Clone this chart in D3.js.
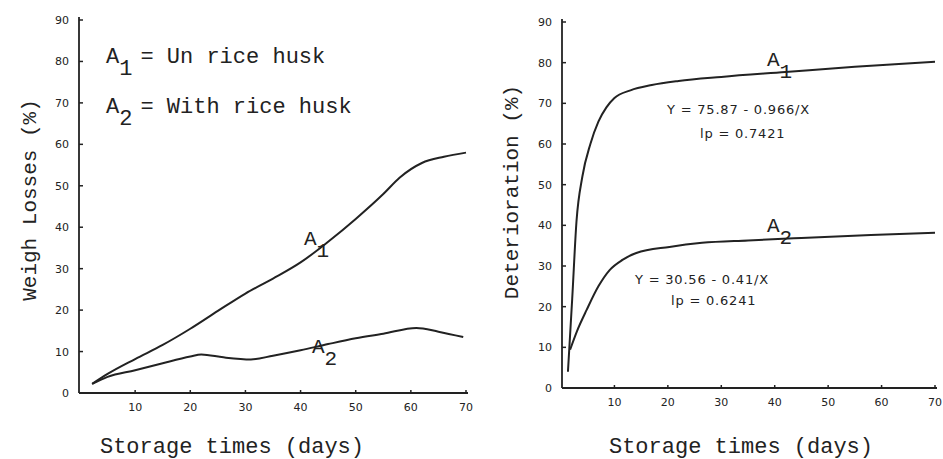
<!DOCTYPE html>
<html>
<head>
<meta charset="utf-8">
<script src="https://cdn.jsdelivr.net/npm/d3@7"></script>
<style>
  body { margin: 0; background: #fff; }
  svg { display: block; }
  text { fill: #222; }
</style>
</head>
<body>
<svg id="drawing_region"></svg>
<script>
// ---- data ----
const lossDaysA1 = [2.2, 5, 10, 15, 20, 25, 30, 35, 40, 45, 50, 55, 58, 62, 66, 70];
const lossA1     = [2.2, 4.6, 8.2, 11.6, 15.5, 19.8, 24, 27.6, 31.5, 36.5, 42, 48, 52, 55.5, 57, 58];
const lossDaysA2 = [2.2, 5, 10, 15, 20, 22, 26, 31, 35, 40, 45, 50, 55, 61, 65, 69.5];
const lossA2     = [2.2, 3.9, 5.5, 7.2, 8.8, 9.3, 8.6, 8.1, 9, 10.3, 11.8, 13.2, 14.3, 15.7, 14.8, 13.5];

const detDaysA1 = [1.3, 2.1, 2.9, 4, 5.5, 7, 8.5, 10, 13, 17, 22, 30, 42, 55, 70];
const detA1     = [4, 22, 41, 52, 60, 65.5, 69, 71.3, 73.2, 74.5, 75.5, 76.5, 77.7, 79, 80.2];
const detDaysA2 = [1.7, 3, 4.8, 7, 9.1, 11.5, 14.1, 20.3, 26.4, 35, 45, 58, 70];
const detA2     = [9.4, 14, 19.2, 25, 29, 31.5, 33.2, 34.7, 35.7, 36.3, 36.9, 37.6, 38.2];

const yTicks = [0, 10, 20, 30, 40, 50, 60, 70, 80, 90];
const xTicks = [10, 20, 30, 40, 50, 60, 70];

const svg = d3.select('#drawing_region')
    .attr('width', 943)
    .attr('height', 459);

const line_color = '#222';
const type_font = 'Liberation Mono';

function drawPanel(cfg) {
    const xscale = d3.scaleLinear().domain([0, 70]).range([cfg.x0, cfg.x1]);
    const yscale = d3.scaleLinear().domain([0, 90]).range([cfg.y0, cfg.y1]);
    const g = svg.append('g');

    // axes
    g.append('line')
        .attr('x1', cfg.axisX).attr('x2', cfg.axisX)
        .attr('y1', cfg.y0).attr('y2', cfg.y1 - 3)
        .attr('stroke', line_color).attr('stroke-width', 1.8);
    g.append('line')
        .attr('x1', cfg.axisX).attr('x2', xscale(70) + 2)
        .attr('y1', cfg.y0).attr('y2', cfg.y0)
        .attr('stroke', line_color).attr('stroke-width', 1.8);

    // y ticks
    g.selectAll('.ytick').data(yTicks.filter(d => d > 0)).enter()
        .append('line')
        .attr('x1', cfg.axisX).attr('x2', cfg.axisX + 4)
        .attr('y1', d => yscale(d)).attr('y2', d => yscale(d))
        .attr('stroke', line_color).attr('stroke-width', 1.5);
    g.selectAll('.ylab').data(yTicks).enter()
        .append('text')
        .attr('x', cfg.axisX - 10)
        .attr('y', d => yscale(d) + 4)
        .attr('text-anchor', 'end')
        .attr('font-family', 'DejaVu Sans')
        .attr('font-size', 11)
        .text(d => d);

    // x ticks
    g.selectAll('.xtick').data(xTicks).enter()
        .append('line')
        .attr('x1', d => xscale(d)).attr('x2', d => xscale(d))
        .attr('y1', cfg.y0).attr('y2', cfg.y0 - 3)
        .attr('stroke', line_color).attr('stroke-width', 1.5);
    g.selectAll('.xlab').data(xTicks).enter()
        .append('text')
        .attr('x', d => xscale(d))
        .attr('y', cfg.y0 + 18)
        .attr('text-anchor', 'middle')
        .attr('font-family', 'DejaVu Sans')
        .attr('font-size', 11)
        .text(d => d);

    // curves
    const line = d3.line()
        .x(d => xscale(d[0]))
        .y(d => yscale(d[1]))
        .curve(d3.curveMonotoneX);
    cfg.series.forEach(s => {
        g.append('path')
            .datum(d3.zip(s.days, s.values))
            .attr('d', line)
            .attr('fill', 'none')
            .attr('stroke', line_color)
            .attr('stroke-width', 2);
    });

    // axis titles
    g.append('text')
        .attr('transform', `translate(${cfg.titleX}, ${cfg.titleY}) rotate(-90)`)
        .attr('text-anchor', 'middle')
        .attr('font-family', type_font)
        .attr('font-size', 21)
        .text(cfg.ytitle);
    g.append('text')
        .attr('x', cfg.xtitleX)
        .attr('y', 453)
        .attr('text-anchor', 'middle')
        .attr('font-family', type_font)
        .attr('font-size', 22)
        .text('Storage times (days)');

    return {xscale, yscale, g};
}

function seriesLabel(g, x, y, sub) {
    const t = g.append('text')
        .attr('x', x).attr('y', y)
        .attr('font-family', type_font)
        .attr('font-size', 21);
    t.append('tspan').text('A');
    t.append('tspan').attr('dy', 12).text(sub);
}

// ---- left panel ----
const left = drawPanel({
    axisX: 79, x0: 80, x1: 466, y0: 393, y1: 20,
    titleX: 36, titleY: 200, ytitle: 'Weigh Losses (%)',
    xtitleX: 232,
    series: [
        {days: lossDaysA1, values: lossA1},
        {days: lossDaysA2, values: lossA2}
    ]
});
seriesLabel(left.g, 304, 245, '1');
seriesLabel(left.g, 312, 353, '2');

// legend
[['1', '= Un rice husk', 63], ['2', '= With rice husk', 113]].forEach(([sub, txt, y]) => {
    const t = left.g.append('text')
        .attr('x', 106).attr('y', y)
        .attr('font-family', type_font)
        .attr('font-size', 22);
    t.append('tspan').text('A');
    t.append('tspan').attr('dy', 12).text(sub);
    t.append('tspan').attr('dy', -12).attr('dx', 8).text(txt);
});

// ---- right panel ----
const right = drawPanel({
    axisX: 562, x0: 561, x1: 935, y0: 388, y1: 22,
    titleX: 518, titleY: 192, ytitle: 'Deterioration (%)',
    xtitleX: 741,
    series: [
        {days: detDaysA1, values: detA1},
        {days: detDaysA2, values: detA2}
    ]
});
seriesLabel(right.g, 767, 66, '1');
seriesLabel(right.g, 767, 232, '2');

const eqs = [
    ['Y = 75.87 - 0.966/X', 667, 114],
    ['lp = 0.7421', 700, 138],
    ['Y = 30.56 - 0.41/X', 635, 284],
    ['lp = 0.6241', 671, 305]
];
right.g.selectAll('.eq').data(eqs).enter()
    .append('text')
    .attr('x', d => d[1])
    .attr('y', d => d[2])
    .attr('font-family', 'DejaVu Sans')
    .attr('font-size', 13)
    .attr('letter-spacing', 0.8)
    .text(d => d[0]);
</script>
</body>
</html>
